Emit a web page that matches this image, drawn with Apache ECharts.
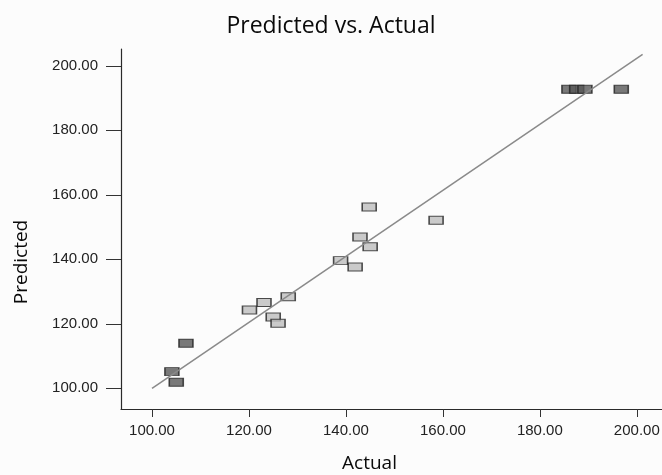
<!DOCTYPE html>
<html>
<head>
<meta charset="utf-8">
<script src="https://cdn.jsdelivr.net/npm/echarts@6.0.0/dist/echarts.min.js"></script>
<style>
html,body{margin:0;padding:0;background:#fcfcfc;}
#c{width:662px;height:475px;}
</style>
</head>
<body>
<div id="c"></div>
<script>
// Data
var actual    = [186.0, 187.6, 189.3, 196.8, 144.8, 158.6, 142.9, 145.0, 138.9, 141.9, 128.1, 123.1, 120.1, 125.0, 126.0, 107.0, 104.1, 105.0];
var predicted = [192.7, 192.7, 192.7, 192.7, 156.2, 152.1, 146.9, 143.9, 139.6, 137.6, 128.4, 126.6, 124.3, 122.1, 120.2, 114.0, 105.2, 101.9];
var shade     = ['dark','dark','dark','dark','light','light','light','light','light','light','light','light','light','light','light','dark','dark','dark'];
var fitX = [100, 201.2];
var fitY = [100, 203.5];
var tickValues = [100, 120, 140, 160, 180, 200];

var fills = {dark: '#585858', light: '#bdbdbd'};
var points = actual.map(function (x, i) {
  return {value: [x, predicted[i]], itemStyle: {color: fills[shade[i]]}};
});
var fitLine = fitX.map(function (x, i) { return [x, fitY[i]]; });

var font = 'Liberation Sans';
var chart = echarts.init(document.getElementById('c'), null, {renderer: 'canvas'});
chart.setOption({
  backgroundColor: '#fcfcfc',
  animation: false,
  title: {
    text: 'Predicted vs. Actual',
    left: 'center',
    top: 10,
    textStyle: {fontFamily: 'Open Sans', fontSize: 23, fontWeight: 'normal', color: '#0a0a0a'}
  },
  grid: {left: 121, top: 49, right: 0, bottom: 66, containLabel: false, outerBoundsMode: 'none'},
  xAxis: {
    type: 'value', min: 93.6, max: 205.2,
    name: 'Actual', nameLocation: 'middle', nameGap: 45,
    nameTextStyle: {fontFamily: 'Open Sans', fontSize: 19, color: '#0a0a0a', padding: [0, 44, 0, 0]},
    axisLine: {show: true, lineStyle: {color: '#2a2a2a', width: 1.2}},
    axisTick: {show: true, length: 8, customValues: tickValues, lineStyle: {color: '#333'}},
    axisLabel: {customValues: tickValues, margin: 14, fontFamily: font, fontSize: 15, color: '#222',
      formatter: function (v) { return v.toFixed(2); }},
    splitLine: {show: false}
  },
  yAxis: {
    type: 'value', min: 93.6, max: 205.2,
    name: 'Predicted', nameLocation: 'middle', nameGap: 90, nameRotate: 90,
    nameTextStyle: {fontFamily: 'Open Sans', fontSize: 19, color: '#0a0a0a', padding: [0, 66, 0, 0]},
    axisLine: {show: true, lineStyle: {color: '#2a2a2a', width: 1.2}},
    axisTick: {show: true, length: 15, customValues: tickValues, lineStyle: {color: '#333'}},
    axisLabel: {customValues: tickValues, margin: 23, fontFamily: font, fontSize: 15, color: '#222',
      formatter: function (v) { return v.toFixed(2); }},
    splitLine: {show: false}
  },
  series: [
    {
      type: 'scatter',
      symbol: 'rect',
      symbolSize: [14, 8],
      itemStyle: {borderColor: '#222', borderWidth: 1.2},
      data: points
    },
    {
      type: 'line',
      data: fitLine,
      showSymbol: false,
      symbol: 'none',
      lineStyle: {color: '#8a8a8a', width: 1.5},
      z: 3
    }
  ]
});
</script>
</body>
</html>
